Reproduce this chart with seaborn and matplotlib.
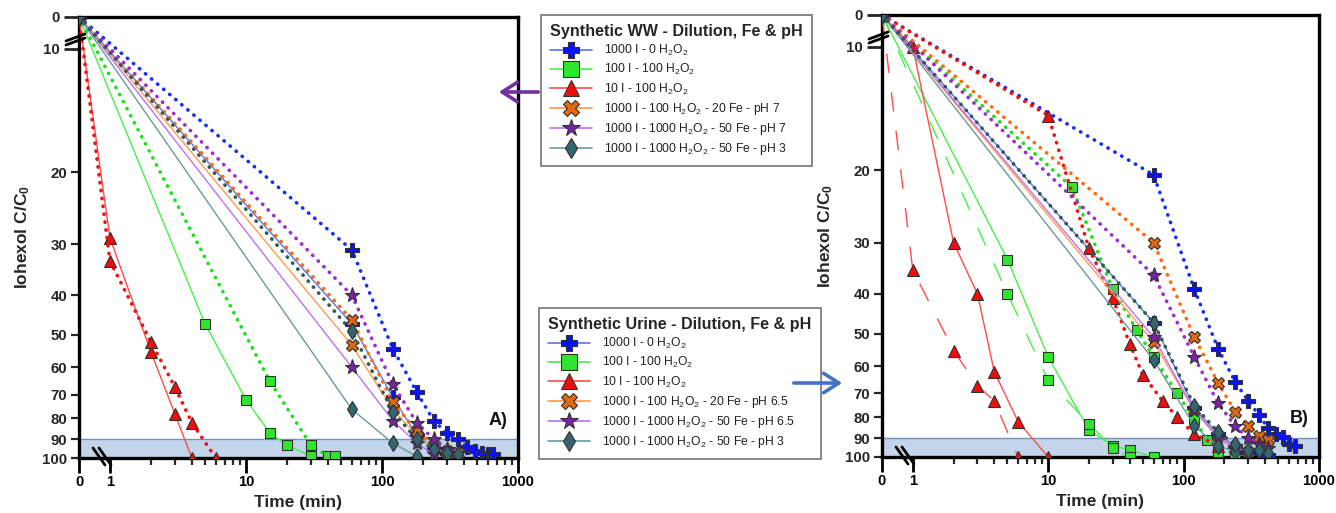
import numpy as np
import matplotlib
matplotlib.use("Agg")
import matplotlib.pyplot as plt
import matplotlib.ticker as mticker
from matplotlib.lines import Line2D
from matplotlib.patches import FancyArrowPatch
import seaborn as sns

# ---------------------------------------------------------------------------
# Data: removal (%) versus time (min); every condition was run in duplicate
# ---------------------------------------------------------------------------
# Panel A - synthetic wastewater
ww_i1000_h0_a_t = [0, 60, 120, 180, 240, 300]
ww_i1000_h0_a_y = [0, 47, 71, 88, 95, 97]
ww_i1000_h0_b_t = [0, 60, 120, 180, 240, 300, 360, 420, 480, 540, 600, 660]
ww_i1000_h0_b_y = [0, 31, 54, 69, 81, 87, 90, 94, 96, 97, 98, 98]

ww_i100_h100_a_t = [0, 5, 10, 15, 20, 30]
ww_i100_h100_a_y = [0, 47, 72, 87, 93, 99]
ww_i100_h100_b_t = [0, 15, 30, 40, 45]
ww_i100_h100_b_y = [0, 65, 93, 99, 99]

ww_i10_h100_a_t = [0, 1, 2, 3, 4]
ww_i10_h100_a_y = [0, 29, 55, 78, 100]
ww_i10_h100_b_t = [0, 1, 2, 3, 4, 6]
ww_i10_h100_b_y = [0, 33, 52, 67, 82, 100]

ww_fe20_a_t = [0, 60, 120, 180, 240, 300]
ww_fe20_a_y = [0, 53, 76, 88, 95, 97]
ww_fe20_b_t = [0, 60, 120, 180, 240, 300, 360]
ww_fe20_b_y = [0, 46, 73, 86, 93, 96, 97]

ww_fe50_ph7_a_t = [0, 60, 120, 180, 240]
ww_fe50_ph7_a_y = [0, 60, 81, 92, 98]
ww_fe50_ph7_b_t = [0, 60, 120, 180, 240, 300, 360]
ww_fe50_ph7_b_y = [0, 40, 66, 82, 90, 95, 97]

ww_fe50_ph3_a_t = [0, 60, 120, 180]
ww_fe50_ph3_a_y = [0, 76, 92, 99]
ww_fe50_ph3_b_t = [0, 60, 120, 180, 240, 300, 360]
ww_fe50_ph3_b_y = [0, 49, 77, 90, 95, 97, 98]

# Panel B - synthetic urine
ur_i1000_h0_a_t = [0, 60, 120, 180, 240, 300, 360, 420]
ur_i1000_h0_a_y = [0, 47, 76, 88, 94, 97, 98, 99]
ur_i1000_h0_b_t = [0, 60, 120, 180, 240, 300, 360, 420, 480, 540, 600, 660]
ur_i1000_h0_b_y = [0, 20.5, 39, 54.5, 65.5, 73, 79, 85, 88, 89.5, 93, 94]

ur_i100_h100_a_t = [0, 5, 10, 20, 30, 40, 60]
ur_i100_h100_a_y = [0, 33, 57, 86, 94, 96, 100]
ur_i100_h100_b_t = [0, 5, 10, 20, 30, 40]
ur_i100_h100_b_y = [0, 40, 65, 83, 95, 100]
ur_i100_h100_c_t = [0, 15, 30, 45, 60, 90, 120, 150, 180, 240]
ur_i100_h100_c_y = [0, 22, 39, 49, 57, 70, 81, 91, 97, 98]

ur_i10_h100_a_t = [0, 1, 2, 3, 4, 6, 10]
ur_i10_h100_a_y = [0, 10, 30, 40, 62, 82, 100]
ur_i10_h100_b_t = [0, 1, 2, 3, 4, 6]
ur_i10_h100_b_y = [0, 35, 55, 67, 73, 100]
ur_i10_h100_c_t = [0, 10, 20, 30, 40, 50, 70, 90, 120, 180]
ur_i10_h100_c_y = [0, 14.7, 31, 41, 53, 63, 73, 80, 88, 94]

ur_fe20_a_t = [0, 60, 120, 180, 240, 300]
ur_fe20_a_y = [0, 52.5, 77, 89, 95, 97]
ur_fe20_b_t = [0, 60, 120, 180, 240, 300, 360, 420]
ur_fe20_b_y = [0, 30, 51, 66, 77.5, 84, 89, 91]

ur_fe50_ph65_a_t = [0, 60, 120, 180, 240, 300]
ur_fe50_ph65_a_y = [0, 51, 77, 90, 95, 97]
ur_fe50_ph65_b_t = [0, 60, 120, 180, 240, 300, 360, 420]
ur_fe50_ph65_b_y = [0, 36, 57, 74, 84, 90, 93, 95]

ur_fe50_ph3_a_t = [0, 60, 120, 180, 240]
ur_fe50_ph3_a_y = [0, 58, 84, 94, 97]
ur_fe50_ph3_b_t = [0, 60, 120, 180, 240, 300, 360, 420]
ur_fe50_ph3_b_y = [0, 47, 75, 87, 93, 96, 96, 98]

# Axis ticks and legend text
x_major = [0, 1, 10, 100, 1000]
x_minor = [2, 3, 4, 5, 6, 7, 8, 9, 20, 30, 40, 50, 60, 70, 80, 90,
           200, 300, 400, 500, 600, 700, 800, 900]
y_major = [20, 30, 40, 50, 60, 70, 80, 90, 100]
y_minor = [0, 10]

ww_title = "Synthetic WW - Dilution, Fe & pH"
ur_title = "Synthetic Urine - Dilution, Fe & pH"
ww_labels = ["1000 I - 0 H$_2$O$_2$", "100 I - 100 H$_2$O$_2$", "10 I - 100 H$_2$O$_2$",
             "1000 I - 100 H$_2$O$_2$ - 20 Fe - pH 7",
             "1000 I - 1000 H$_2$O$_2$ - 50 Fe - pH 7",
             "1000 I - 1000 H$_2$O$_2$ - 50 Fe - pH 3"]
ur_labels = ["1000 I - 0 H$_2$O$_2$", "100 I - 100 H$_2$O$_2$", "10 I - 100 H$_2$O$_2$",
             "1000 I - 100 H$_2$O$_2$ - 20 Fe - pH 6.5",
             "1000 I - 1000 H$_2$O$_2$ - 50 Fe - pH 6.5",
             "1000 I - 1000 H$_2$O$_2$ - 50 Fe - pH 3"]

# ---------------------------------------------------------------------------
# Style
# ---------------------------------------------------------------------------
sns.set_theme(style="white")
plt.rcParams["font.family"] = ["Liberation Sans", "DejaVu Sans"]
plt.rcParams["mathtext.fontset"] = "custom"
plt.rcParams["mathtext.rm"] = "Liberation Sans"
plt.rcParams["mathtext.it"] = "Liberation Sans:italic"
plt.rcParams["mathtext.bf"] = "Liberation Sans:bold"
plt.rcParams["mathtext.default"] = "rm"

# marker, marker size, marker face, solid line colour, dotted colour
STYLE = {
    "blue":   dict(m="P", ms=10, mfc="#0A14F0", line="#5876F0", dot="#1530F5", lms=12),
    "green":  dict(m="s", ms=7,  mfc="#2EE62E", line="#48F048", dot="#1EE01E", lms=12),
    "red":    dict(m="^", ms=8,  mfc="#F00D0D", line="#FF4A4A", dot="#F01212", lms=12),
    "orange": dict(m="X", ms=9,  mfc="#E3680F", line="#FF9A50", dot="#FF6A10", lms=12),
    "purple": dict(m="*", ms=11, mfc="#7A22A8", line="#C070F0", dot="#9A2ED0", lms=13),
    "teal":   dict(m="d", ms=8,  mfc="#35656F", line="#6A9A9A", dot="#2E5A5A", lms=10),
}
EDGE = "#303030"
DOTTED = (0, (0.1, 2.1))
DASHED = (0, (14, 14))

# Axis scales: log10 above 1 (time) / 10 (removal), a short linear stub to 0
GX = 0.2275
GY = 0.078


def fwd_x(x):
    x = np.asarray(x, dtype=float)
    return np.where(x >= 1, np.log10(np.clip(x, 1e-9, None)), (x - 1.0) * GX)


def inv_x(u):
    u = np.asarray(u, dtype=float)
    return np.where(u >= 0, 10.0 ** np.clip(u, -50, 50), 1.0 + u / GX)


def fwd_y(y):
    y = np.asarray(y, dtype=float)
    return np.where(y >= 10, np.log10(np.clip(y, 1e-9, None)), 1.0 + (y - 10.0) / 10.0 * GY)


def inv_y(v):
    v = np.asarray(v, dtype=float)
    return np.where(v >= 1, 10.0 ** np.clip(v, -50, 50), 10.0 + (v - 1.0) / GY * 10.0)


W, H = 1336, 513
fig = plt.figure(figsize=(W / 100, H / 100), dpi=100)


def rect(x0, x1, ytop, ybot):
    return [x0 / W, 1 - ybot / H, (x1 - x0) / W, (ybot - ytop) / H]


axA = fig.add_axes(rect(79, 518, 17, 458))
axB = fig.add_axes(rect(882, 1319, 15, 457))

for ax in (axA, axB):
    ax.set_xscale("function", functions=(fwd_x, inv_x))
    ax.set_yscale("function", functions=(fwd_y, inv_y))
    ax.set_xlim(0, 1000)
    ax.set_ylim(100, 0)
    ax.set_facecolor("white")
    ax.axhspan(90, 100, facecolor="#C3D5EB", edgecolor="#6F92C6", lw=1.0, zorder=0.5)


def draw(ax, t, y, key, kind):
    st = STYLE[key]
    if kind == "solid":
        ls, lw, col, cap = "-", 1.0, st["line"], "butt"
    elif kind == "dashed":
        ls, lw, col, cap = DASHED, 1.0, st["line"], "butt"
    else:
        ls, lw, col, cap = DOTTED, 2.6, st["dot"], "round"
    sns.lineplot(x=t, y=y, ax=ax, color=col, lw=lw, linestyle=ls,
                 dash_capstyle=cap, marker=st["m"], markersize=st["ms"],
                 markerfacecolor=st["mfc"], markeredgecolor=EDGE,
                 markeredgewidth=0.8, estimator=None, errorbar=None,
                 sort=False, legend=False, zorder=3)


# Panel A
draw(axA, ww_i1000_h0_a_t, ww_i1000_h0_a_y, "blue", "solid")
draw(axA, ww_i1000_h0_b_t, ww_i1000_h0_b_y, "blue", "dotted")
draw(axA, ww_i100_h100_a_t, ww_i100_h100_a_y, "green", "solid")
draw(axA, ww_i100_h100_b_t, ww_i100_h100_b_y, "green", "dotted")
draw(axA, ww_i10_h100_a_t, ww_i10_h100_a_y, "red", "solid")
draw(axA, ww_i10_h100_b_t, ww_i10_h100_b_y, "red", "dotted")
draw(axA, ww_fe20_a_t, ww_fe20_a_y, "orange", "solid")
draw(axA, ww_fe20_b_t, ww_fe20_b_y, "orange", "dotted")
draw(axA, ww_fe50_ph7_a_t, ww_fe50_ph7_a_y, "purple", "solid")
draw(axA, ww_fe50_ph7_b_t, ww_fe50_ph7_b_y, "purple", "dotted")
draw(axA, ww_fe50_ph3_a_t, ww_fe50_ph3_a_y, "teal", "solid")
draw(axA, ww_fe50_ph3_b_t, ww_fe50_ph3_b_y, "teal", "dotted")

# Panel B
draw(axB, ur_i1000_h0_a_t, ur_i1000_h0_a_y, "blue", "solid")
draw(axB, ur_i1000_h0_b_t, ur_i1000_h0_b_y, "blue", "dotted")
draw(axB, ur_i100_h100_a_t, ur_i100_h100_a_y, "green", "solid")
draw(axB, ur_i100_h100_b_t, ur_i100_h100_b_y, "green", "dashed")
draw(axB, ur_i100_h100_c_t, ur_i100_h100_c_y, "green", "dotted")
draw(axB, ur_i10_h100_a_t, ur_i10_h100_a_y, "red", "solid")
draw(axB, ur_i10_h100_b_t, ur_i10_h100_b_y, "red", "dashed")
draw(axB, ur_i10_h100_c_t, ur_i10_h100_c_y, "red", "dotted")
draw(axB, ur_fe20_a_t, ur_fe20_a_y, "orange", "solid")
draw(axB, ur_fe20_b_t, ur_fe20_b_y, "orange", "dotted")
draw(axB, ur_fe50_ph65_a_t, ur_fe50_ph65_a_y, "purple", "solid")
draw(axB, ur_fe50_ph65_b_t, ur_fe50_ph65_b_y, "purple", "dotted")
draw(axB, ur_fe50_ph3_a_t, ur_fe50_ph3_a_y, "teal", "solid")
draw(axB, ur_fe50_ph3_b_t, ur_fe50_ph3_b_y, "teal", "dotted")

fmt = mticker.FuncFormatter(lambda v, p: f"{v:g}")
for ax, tag in ((axA, "A)"), (axB, "B)")):
    ax.set_xlim(0, 1000)
    ax.set_ylim(100, 0)
    ax.xaxis.set_major_locator(mticker.FixedLocator(x_major))
    ax.xaxis.set_major_formatter(fmt)
    ax.xaxis.set_minor_locator(mticker.FixedLocator(x_minor))
    ax.xaxis.set_minor_formatter(mticker.NullFormatter())
    ax.yaxis.set_major_locator(mticker.FixedLocator(y_major))
    ax.yaxis.set_major_formatter(fmt)
    ax.yaxis.set_minor_locator(mticker.FixedLocator(y_minor))
    ax.yaxis.set_minor_formatter(fmt)
    ax.tick_params(axis="x", which="major", direction="out", length=11, width=2.0,
                   labelsize=10.6, pad=1.5, colors="black", bottom=True)
    ax.tick_params(axis="x", which="minor", direction="out", length=5, width=1.6,
                   bottom=True)
    ax.tick_params(axis="y", which="major", direction="out", length=5.5, width=1.6,
                   labelsize=10.8, pad=3, left=True)
    ax.tick_params(axis="y", which="minor", direction="out", length=11, width=2.0,
                   labelsize=10.8, pad=3, left=True)
    for lbl in (ax.get_xticklabels() + ax.get_yticklabels()
                + ax.get_yticklabels(minor=True)):
        lbl.set_fontweight("bold")
    for sp in ax.spines.values():
        sp.set_visible(True)
        sp.set_linewidth(2.4)
        sp.set_color("black")
    ax.set_xlabel("Time (min)", fontsize=12.5, fontweight="bold", labelpad=4)
    ax.set_ylabel(r"Iohexol C/C$_\mathbf{0}$", fontsize=12.5, fontweight="bold",
                  labelpad=7)
    ax.text(0.955, 0.086, tag, transform=ax.transAxes, fontsize=13,
            fontweight="bold", ha="center", va="center", color="#111111")


def stroke(ax, p0, p1, corner):
    """Short black stroke given in pixel offsets from an axes corner."""
    bb = ax.get_position()
    wpx, hpx = bb.width * W, bb.height * H
    def conv(p):
        dx, dy = p
        if corner == "bl":
            return dx / wpx, -dy / hpx
        return dx / wpx, 1 - dy / hpx
    (x0, y0), (x1, y1) = conv(p0), conv(p1)
    ax.add_line(Line2D([x0, x1], [y0, y1], transform=ax.transAxes, color="black",
                       lw=2.0, clip_on=False, zorder=6))


# axis-break marks
for ax in (axA, axB):
    stroke(ax, (14, -10), (26, 7), "bl")
    stroke(ax, (20, -10), (32, 7), "bl")
    stroke(ax, (-13, 28), (6, 21), "tl")
    stroke(ax, (-13, 24), (6, 17), "tl")

# legends
def handles():
    out = []
    for key in ("blue", "green", "red", "orange", "purple", "teal"):
        st = STYLE[key]
        out.append(Line2D([], [], color=st["line"], lw=1.2, marker=st["m"],
                          markersize=st["lms"], markerfacecolor=st["mfc"],
                          markeredgecolor=EDGE, markeredgewidth=0.8))
    return out


leg_kw = dict(loc="upper left", bbox_transform=fig.transFigure, frameon=True,
              fancybox=False, edgecolor="#7F7F7F", framealpha=1, borderpad=0.75,
              handlelength=3.5, handletextpad=0.95, labelspacing=0.34,
              borderaxespad=0, prop={"size": 8.7, "weight": "normal"},
              labelcolor="#222222", alignment="left",
              title_fontproperties={"size": 11.6, "weight": "bold"})
legA = fig.legend(handles(), ww_labels, title=ww_title,
                  bbox_to_anchor=(541 / W, 1 - 15 / H), **leg_kw)
legB = fig.legend(handles(), ur_labels, title=ur_title,
                  bbox_to_anchor=(539 / W, 1 - 308 / H), **leg_kw)
for leg in (legA, legB):
    leg.get_frame().set_linewidth(1.3)

# arrows linking legends to panels
fig.add_artist(FancyArrowPatch((541, H - 92), (496, H - 92), transform=None,
                               arrowstyle="->,head_length=0.55,head_width=0.35",
                               mutation_scale=20, color="#7030A0", lw=2.6,
                               zorder=7))
fig.add_artist(FancyArrowPatch((791, H - 383), (845, H - 383), transform=None,
                               arrowstyle="->,head_length=0.55,head_width=0.35",
                               mutation_scale=20, color="#4472C4", lw=2.6,
                               zorder=7))

fig.savefig("out.png", dpi=100, facecolor="white")
